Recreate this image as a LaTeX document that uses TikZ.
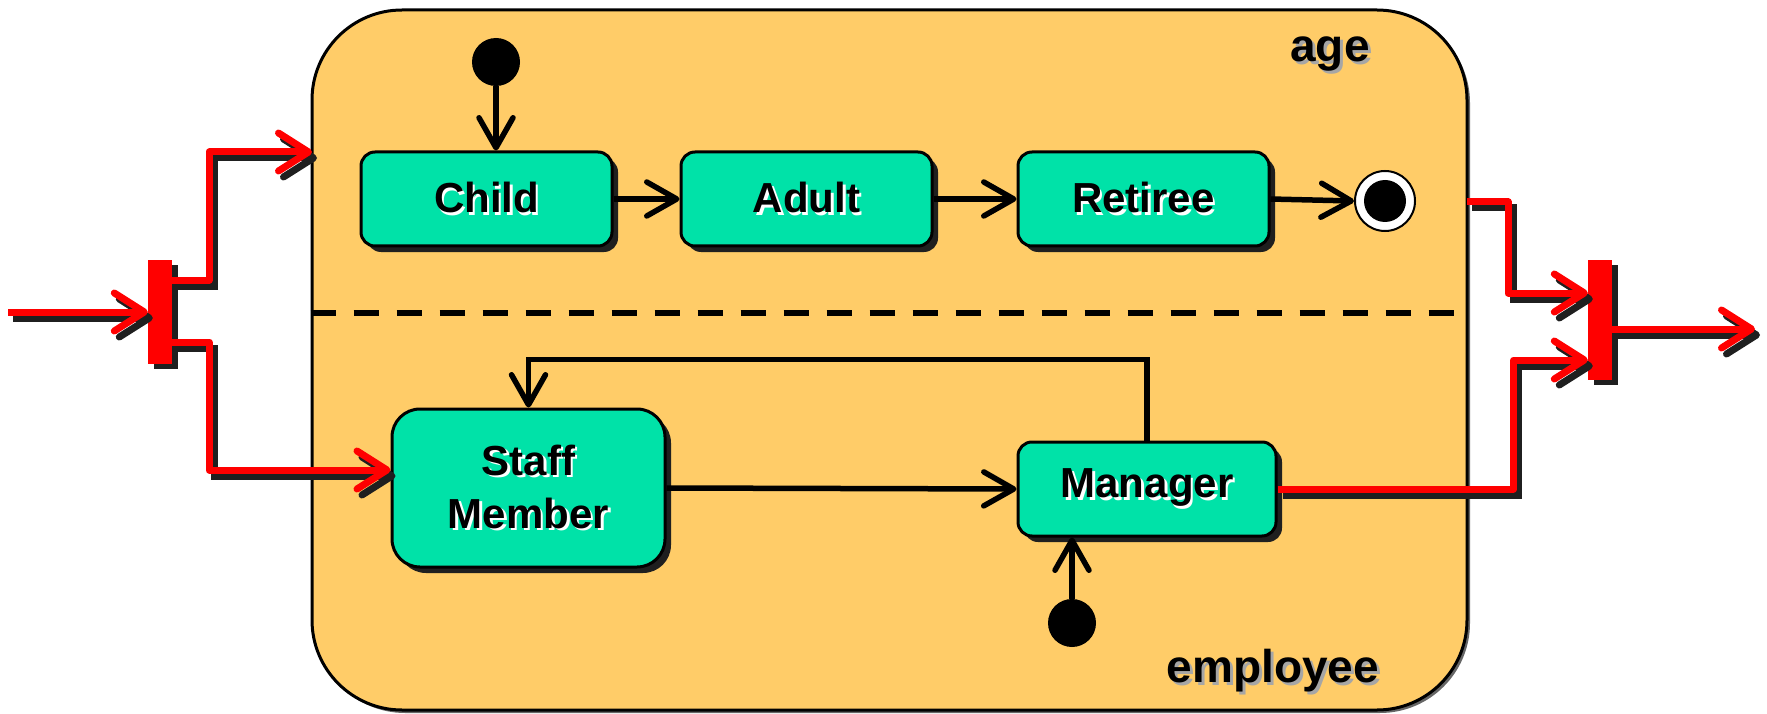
\documentclass[tikz,border=0pt]{standalone}
\usepackage{fontspec}
\setmainfont{Liberation Sans}
\usetikzlibrary{arrows.meta,shadows}
\definecolor{mint}{RGB}{0,226,168}
\definecolor{compfill}{RGB}{255,204,104}
\newcommand{\sht}[1]{\leavevmode\rlap{\hspace{2.5pt}\raisebox{-2.5pt}{\color{white}#1}}#1}
\newcommand{\shg}[1]{\leavevmode\rlap{\hspace{3pt}\raisebox{-3pt}{\color{black!35}#1}}#1}
\tikzset{
  statebox/.style={draw=black, line width=3pt, fill=mint, rounded corners=14pt,
    minimum width=251pt, minimum height=94pt, inner sep=0pt,
    font=\bfseries\fontsize{42}{53}\selectfont, align=center,
    drop shadow={shadow xshift=6pt, shadow yshift=-6pt, fill=black!88, opacity=1}},
  barbox/.style={fill=red, draw=none, minimum width=24pt, inner sep=0pt,
    drop shadow={shadow xshift=6pt, shadow yshift=-5pt, fill=black!88, opacity=1}},
  initdot/.style={circle, fill=black, minimum size=48pt, inner sep=0pt},
  redarrow/.style={line width=7pt, line join=round,
    -{Straight Barb[length=30pt,width=38pt,round]},
    preaction={draw=black!88, line width=7pt, transform canvas={shift={(5pt,-6pt)}}},
    draw=red},
  blackarrow/.style={draw=black, line width=5.5pt,
    -{Straight Barb[length=30pt,width=34pt,round]}},
  regionlabel/.style={font=\bfseries\fontsize{46}{50}\selectfont, inner sep=0pt},
}
\begin{document}
\begin{tikzpicture}[x=1pt,y=-1pt]
\useasboundingbox (0,0) rectangle (1767,714);
% composite state
\node[draw=black, line width=3pt, fill=compfill, rounded corners=90pt,
  minimum width=1155pt, minimum height=700pt, inner sep=0pt,
  drop shadow={shadow xshift=3pt, shadow yshift=-3pt, fill=black!60, opacity=1}]
  (comp) at (889.5,360) {};
\draw[line width=6pt, dash pattern=on 25pt off 18pt] (comp.west |- 0,313) coordinate (dl) -- (comp.east |- 0,313) coordinate (dr);
\node[regionlabel] (age) at (1330,55) {\shg{age}};
\node[regionlabel] (emp) at (1273,672) {\shg{employee}};
% states
\node[statebox] (child) at (486.5,199) {\sht{Child}};
\node[statebox] (adult) at (806.5,199) {\sht{Adult}};
\node[statebox] (retiree) at (1143.5,199) {\sht{Retiree}};
\node[statebox, minimum width=273pt, minimum height=158pt, rounded corners=28pt] (staff) at (528.5,488) {\sht{Staff}\\\sht{Member}};
\node[statebox, minimum width=258pt] (manager) at (1147,489) {\sht{Manager}};
% pseudo states
\node[initdot] (init1) at (496,62) {};
\node[initdot] (init2) at (1072,623) {};
\node[circle, draw=black, line width=2pt, fill=white, minimum size=60pt, inner sep=0pt] (final) at (1385,201) {};
\node[circle, fill=black, minimum size=42pt, inner sep=0pt] (finaldot) at (1385,201) {};
% fork / join bars
\node[barbox, minimum height=104pt] (fork) at (160,312) {};
\node[barbox, minimum height=120pt] (join) at (1600,320) {};
% coordinates
\coordinate (in) at (8,312);
\coordinate (ageIn) at (312,152);
\coordinate (retOut) at (1467,202);
\coordinate (out) at (1755,329);
% black transitions
\draw[blackarrow] (init1) -- (init1 |- child.north);
\draw[blackarrow] (child.east) -- (adult.west);
\draw[blackarrow] (adult.east) -- (retiree.west);
\draw[blackarrow] (retiree.east) -- (final.west);
\draw[blackarrow] (staff.east) -- (manager.west);
\draw[blackarrow] (manager.north) -- ++(0,-81) -| (staff.north);
\draw[blackarrow] (init2) -- (init2 |- manager.south);
% red transitions
\draw[redarrow] (in) -- (fork.west);
\draw[redarrow] ([yshift=32pt]fork.east) -- ++(37,0) |- (ageIn);
\draw[redarrow] ([yshift=-30pt]fork.east) -- ++(37,0) |- ([yshift=18pt]staff.west);
\draw[redarrow] (retOut) -- ++(41,0) |- ([yshift=27pt]join.west);
\draw[redarrow] (manager.east) -- ++(236,0) |- ([yshift=-40pt]join.west);
\draw[redarrow] ([yshift=-9pt]join.east) -- (out);
\end{tikzpicture}
\end{document}
